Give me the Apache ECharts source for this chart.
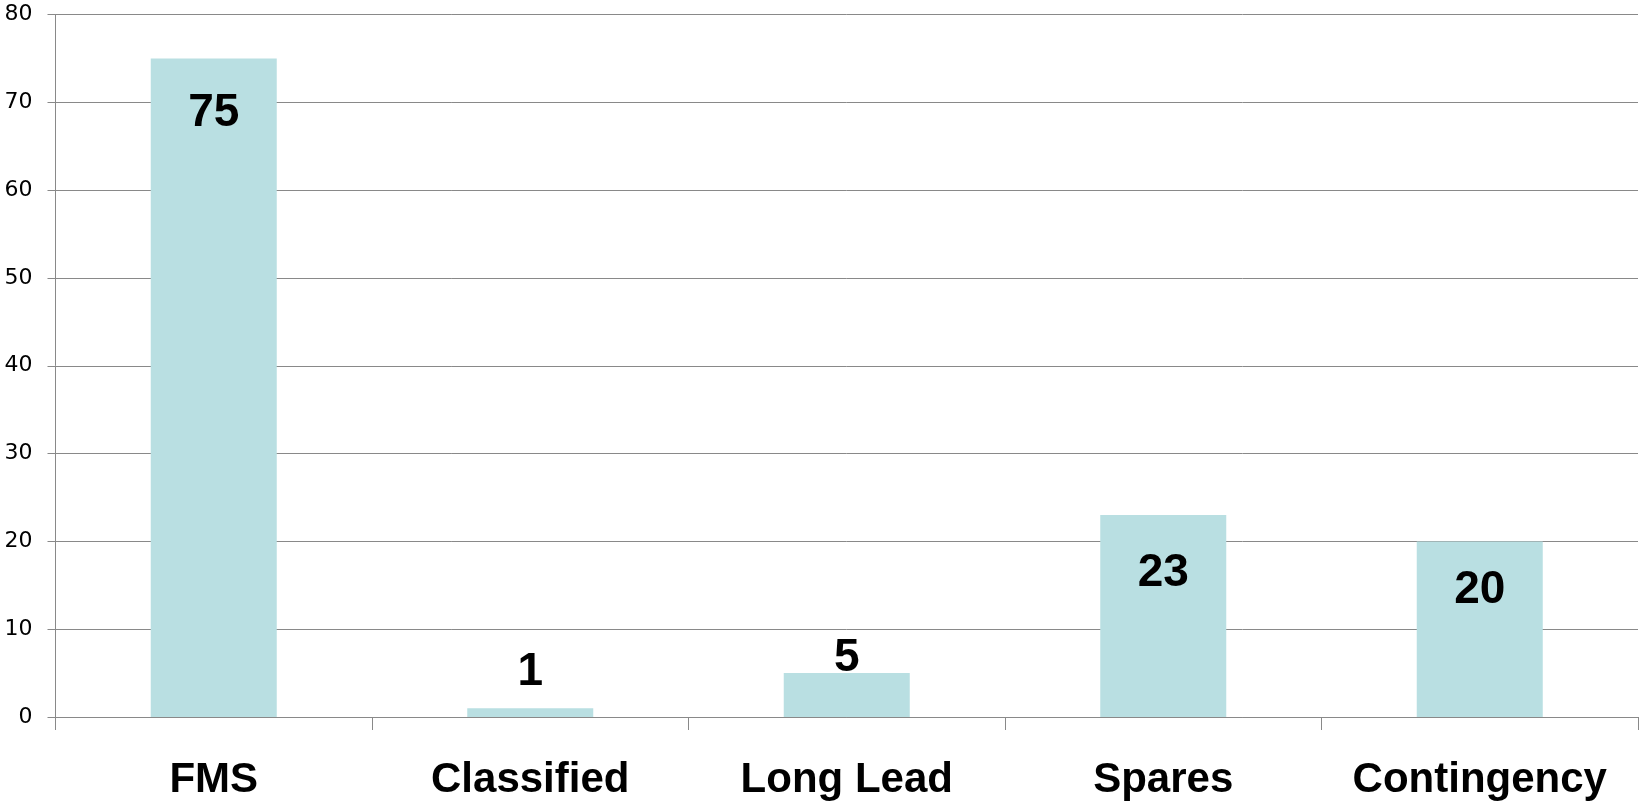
<!DOCTYPE html>
<html>
<head>
<meta charset="utf-8">
<script src="https://cdn.jsdelivr.net/npm/echarts@6/dist/echarts.min.js"></script>
<style>
html,body{margin:0;padding:0;background:#fff;}
#chart{width:1639px;height:802px;}
</style>
</head>
<body>
<div id="chart"></div>
<script>
const categories = ['FMS', 'Classified', 'Long Lead', 'Spares', 'Contingency'];
const values = [75, 1, 5, 23, 20];
const yTicks = [0, 10, 20, 30, 40, 50, 60, 70, 80];

// per-bar label vertical shifts (styling, as in the original's hand-placed labels)
const labelShift = [83, -8, 13, 86, 77];

const chart = echarts.init(document.getElementById('chart'), null, {renderer: 'canvas'});
const axisGray = '#898989';
chart.setOption({
  animation: false,
  grid: {left: 55.5, top: 14.5, right: 1, bottom: 85, containLabel: false},
  xAxis: {
    type: 'category',
    data: categories,
    axisLine: {show: true, lineStyle: {color: axisGray, width: 1}},
    axisTick: {show: true, length: 13, interval: 0, lineStyle: {color: axisGray}},
    axisLabel: {
      interval: 0, hideOverlap: false,
      color: '#000', fontFamily: 'Liberation Sans, Arial, sans-serif',
      fontWeight: 'bold', fontSize: 42, margin: 42
    }
  },
  yAxis: {
    type: 'value',
    min: yTicks[0], max: yTicks[yTicks.length - 1], interval: 10,
    axisLine: {show: true, lineStyle: {color: axisGray, width: 1}},
    axisTick: {show: true, length: 8, lineStyle: {color: axisGray}},
    splitLine: {show: true, lineStyle: {color: axisGray, width: 1}},
    axisLabel: {
      color: '#000', fontFamily: 'DejaVu Sans, sans-serif',
      fontSize: 22, margin: 23
    }
  },
  series: [{
    type: 'bar',
    barWidth: 126,
    itemStyle: {color: '#b9dfe2'},
    data: values.map((v, i) => ({
      value: v,
      label: {offset: [0, labelShift[i]]}
    })),
    label: {
      show: true, position: 'top', distance: 5,
      color: '#000', fontFamily: 'Liberation Sans, Arial, sans-serif',
      fontWeight: 'bold', fontSize: 46
    }
  }]
});
</script>
</body>
</html>
